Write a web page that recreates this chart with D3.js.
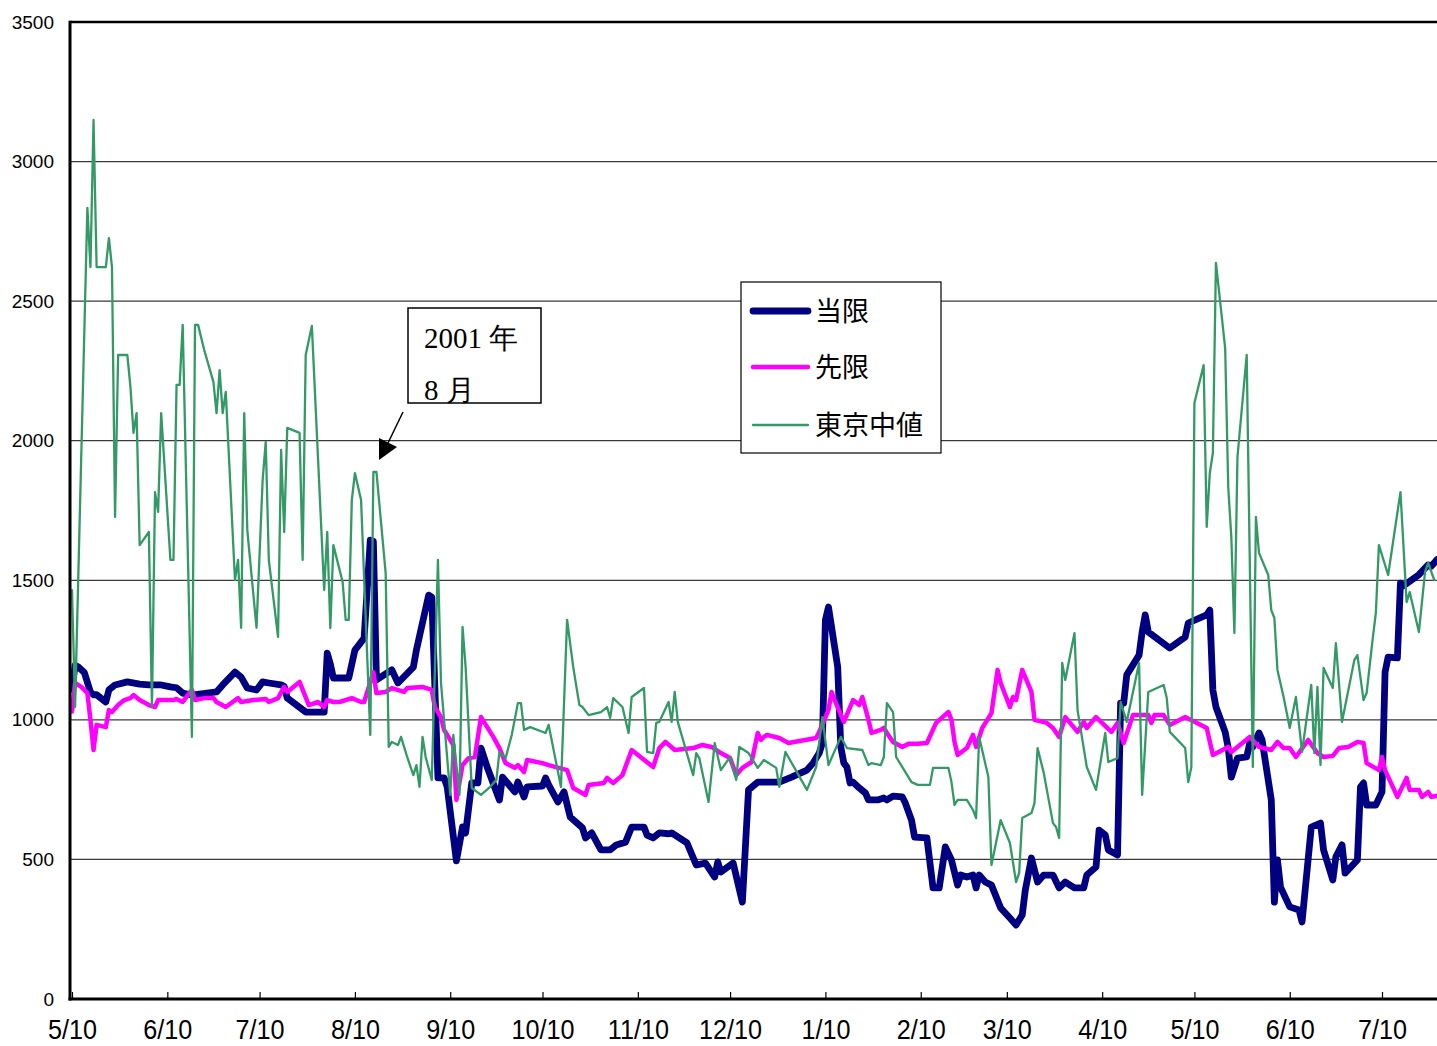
<!DOCTYPE html>
<html>
<head>
<meta charset="utf-8">
<script src="https://cdn.jsdelivr.net/npm/d3@7"></script>
<style>
  body { margin: 0; background: #fff; }
  svg { display: block; }
</style>
</head>
<body>
<svg id="chart" width="1437" height="1046"></svg>
<script>
// ---- data ----
const yTicks = [0, 500, 1000, 1500, 2000, 2500, 3000, 3500];
const xTickDates = ["2001-05-10","2001-06-10","2001-07-10","2001-08-10","2001-09-10","2001-10-10",
  "2001-11-10","2001-12-10","2002-01-10","2002-02-10","2002-03-10","2002-04-10","2002-05-10",
  "2002-06-10","2002-07-10"];
const xTickLabels = ["5/10","6/10","7/10","8/10","9/10","10/10","11/10","12/10","1/10","2/10",
  "3/10","4/10","5/10","6/10","7/10"];
const seriesNames = ["当限", "先限", "東京中値"];

// 当限
const touGen = [["2001-05-10",1110],["2001-05-11",1195],["2001-05-12",1190],["2001-05-14",1170],["2001-05-16",1100],["2001-05-17",1090],["2001-05-18",1090],["2001-05-21",1064],["2001-05-22",1107],["2001-05-24",1125],["2001-05-28",1136],["2001-06-01",1128],["2001-06-04",1125],["2001-06-08",1125],["2001-06-11",1118],["2001-06-13",1115],["2001-06-15",1096],["2001-06-18",1089],["2001-06-26",1100],["2001-06-28",1125],["2001-07-02",1171],["2001-07-04",1153],["2001-07-06",1114],["2001-07-09",1107],["2001-07-11",1136],["2001-07-13",1132],["2001-07-17",1125],["2001-07-18",1120],["2001-07-19",1078],["2001-07-22",1053],["2001-07-25",1028],["2001-07-31",1028],["2001-08-01",1239],["2001-08-02",1200],["2001-08-03",1150],["2001-08-08",1150],["2001-08-10",1250],["2001-08-13",1293],["2001-08-15",1644],["2001-08-16",1640],["2001-08-17",1143],["2001-08-18",1150],["2001-08-22",1179],["2001-08-24",1132],["2001-08-29",1189],["2001-08-30",1250],["2001-09-03",1447],["2001-09-04",1440],["2001-09-06",792],["2001-09-08",792],["2001-09-09",760],["2001-09-12",495],["2001-09-14",616],["2001-09-15",595],["2001-09-17",774],["2001-09-19",774],["2001-09-20",899],["2001-09-22",831],["2001-09-26",713],["2001-09-27",795],["2001-10-01",742],["2001-10-02",777],["2001-10-04",724],["2001-10-05",760],["2001-10-10",763],["2001-10-11",792],["2001-10-12",767],["2001-10-15",706],["2001-10-17",742],["2001-10-19",652],["2001-10-23",613],["2001-10-24",577],["2001-10-26",595],["2001-10-29",534],["2001-11-01",534],["2001-11-03",552],["2001-11-06",562],["2001-11-08",616],["2001-11-12",616],["2001-11-13",587],["2001-11-15",577],["2001-11-17",595],["2001-11-20",592],["2001-11-21",595],["2001-11-26",559],["2001-11-29",480],["2001-12-02",487],["2001-12-05",437],["2001-12-06",491],["2001-12-07",455],["2001-12-11",487],["2001-12-14",347],["2001-12-16",749],["2001-12-19",777],["2001-12-26",777],["2001-12-30",795],["2002-01-04",820],["2002-01-06",845],["2002-01-08",881],["2002-01-09",917],["2002-01-10",1358],["2002-01-11",1404],["2002-01-14",1189],["2002-01-15",903],["2002-01-16",845],["2002-01-17",831],["2002-01-18",774],["2002-01-19",777],["2002-01-21",756],["2002-01-23",738],["2002-01-24",713],["2002-01-27",713],["2002-01-29",720],["2002-01-30",713],["2002-02-01",727],["2002-02-04",724],["2002-02-05",702],["2002-02-07",641],["2002-02-08",580],["2002-02-12",577],["2002-02-14",398],["2002-02-16",398],["2002-02-18",545],["2002-02-20",498],["2002-02-22",408],["2002-02-23",444],["2002-02-25",437],["2002-02-27",444],["2002-02-28",398],["2002-03-01",444],["2002-03-03",419],["2002-03-05",408],["2002-03-08",326],["2002-03-11",290],["2002-03-13",265],["2002-03-15",301],["2002-03-16",390],["2002-03-18",505],["2002-03-20",419],["2002-03-22",444],["2002-03-25",444],["2002-03-27",398],["2002-03-29",419],["2002-04-01",398],["2002-04-04",398],["2002-04-05",444],["2002-04-08",473],["2002-04-09",605],["2002-04-11",588],["2002-04-12",534],["2002-04-15",516],["2002-04-16",1060],["2002-04-17",1060],["2002-04-18",1161],["2002-04-22",1232],["2002-04-23",1315],["2002-04-24",1376],["2002-04-25",1315],["2002-05-02",1257],["2002-05-07",1297],["2002-05-08",1347],["2002-05-14",1376],["2002-05-15",1393],["2002-05-16",1107],["2002-05-17",1046],["2002-05-20",956],["2002-05-21",899],["2002-05-22",795],["2002-05-24",863],["2002-05-27",867],["2002-05-28",917],["2002-05-29",903],["2002-05-31",953],["2002-06-01",928],["2002-06-04",713],["2002-06-05",347],["2002-06-06",498],["2002-06-07",401],["2002-06-10",330],["2002-06-13",319],["2002-06-14",276],["2002-06-17",616],["2002-06-20",630],["2002-06-21",534],["2002-06-24",426],["2002-06-25",509],["2002-06-27",552],["2002-06-28",451],["2002-07-02",498],["2002-07-03",759],["2002-07-04",774],["2002-07-05",695],["2002-07-08",695],["2002-07-10",742],["2002-07-11",1171],["2002-07-12",1225],["2002-07-15",1222],["2002-07-16",1490],["2002-07-17",1480],["2002-07-22",1520],["2002-07-25",1555],["2002-07-26",1550],["2002-07-28",1575]];

// 先限
const sakiGen = [["2001-05-10",1030],["2001-05-11",1132],["2001-05-13",1118],["2001-05-15",1096],["2001-05-16",1000],["2001-05-17",892],["2001-05-18",982],["2001-05-21",974],["2001-05-22",1035],["2001-05-23",1028],["2001-05-25",1053],["2001-05-27",1071],["2001-05-29",1078],["2001-05-30",1089],["2001-06-01",1071],["2001-06-04",1053],["2001-06-06",1046],["2001-06-07",1071],["2001-06-12",1071],["2001-06-13",1075],["2001-06-15",1064],["2001-06-18",1107],["2001-06-19",1071],["2001-06-22",1078],["2001-06-25",1078],["2001-06-26",1064],["2001-06-29",1046],["2001-07-03",1078],["2001-07-04",1064],["2001-07-08",1071],["2001-07-12",1075],["2001-07-13",1064],["2001-07-16",1078],["2001-07-18",1118],["2001-07-19",1100],["2001-07-23",1136],["2001-07-26",1053],["2001-07-29",1064],["2001-07-31",1046],["2001-08-01",1071],["2001-08-03",1064],["2001-08-05",1064],["2001-08-09",1078],["2001-08-12",1064],["2001-08-13",1064],["2001-08-16",1171],["2001-08-17",1096],["2001-08-20",1100],["2001-08-22",1114],["2001-08-26",1100],["2001-08-27",1114],["2001-09-01",1118],["2001-09-04",1107],["2001-09-05",1046],["2001-09-07",1010],["2001-09-08",964],["2001-09-11",910],["2001-09-12",713],["2001-09-14",838],["2001-09-16",863],["2001-09-18",867],["2001-09-20",1010],["2001-09-24",939],["2001-09-26",899],["2001-09-28",845],["2001-10-01",828],["2001-10-02",838],["2001-10-04",813],["2001-10-05",856],["2001-10-10",845],["2001-10-12",838],["2001-10-18",820],["2001-10-20",756],["2001-10-24",731],["2001-10-25",767],["2001-10-30",774],["2001-10-31",792],["2001-11-02",774],["2001-11-05",802],["2001-11-08",892],["2001-11-15",831],["2001-11-17",899],["2001-11-19",921],["2001-11-22",892],["2001-11-28",899],["2001-12-01",910],["2001-12-04",903],["2001-12-07",881],["2001-12-10",863],["2001-12-12",802],["2001-12-14",828],["2001-12-17",849],["2001-12-19",953],["2001-12-20",928],["2001-12-21",939],["2001-12-22",946],["2001-12-26",935],["2001-12-29",917],["2002-01-07",935],["2002-01-08",957],["2002-01-11",1035],["2002-01-12",1100],["2002-01-13",1071],["2002-01-16",993],["2002-01-19",1071],["2002-01-21",1053],["2002-01-22",1082],["2002-01-24",1000],["2002-01-25",953],["2002-01-28",964],["2002-01-29",971],["2002-01-30",953],["2002-02-01",921],["2002-02-04",903],["2002-02-06",914],["2002-02-09",914],["2002-02-12",917],["2002-02-15",989],["2002-02-19",1028],["2002-02-20",1000],["2002-02-21",921],["2002-02-22",874],["2002-02-25",899],["2002-02-27",946],["2002-02-28",903],["2002-03-02",971],["2002-03-05",1024],["2002-03-07",1179],["2002-03-08",1132],["2002-03-11",1046],["2002-03-12",1082],["2002-03-13",1071],["2002-03-15",1179],["2002-03-18",1100],["2002-03-19",1000],["2002-03-23",989],["2002-03-25",971],["2002-03-27",939],["2002-03-29",1010],["2002-04-02",957],["2002-04-04",993],["2002-04-05",971],["2002-04-08",1010],["2002-04-13",957],["2002-04-15",989],["2002-04-17",917],["2002-04-20",1017],["2002-04-25",1017],["2002-04-26",989],["2002-04-27",1017],["2002-04-30",1017],["2002-05-02",982],["2002-05-07",1010],["2002-05-14",971],["2002-05-16",874],["2002-05-21",903],["2002-05-22",885],["2002-05-28",939],["2002-05-31",903],["2002-06-04",892],["2002-06-06",921],["2002-06-08",899],["2002-06-10",899],["2002-06-12",867],["2002-06-16",928],["2002-06-19",881],["2002-06-21",867],["2002-06-24",871],["2002-06-26",899],["2002-06-29",903],["2002-07-02",921],["2002-07-04",917],["2002-07-05",845],["2002-07-09",820],["2002-07-10",867],["2002-07-11",820],["2002-07-15",724],["2002-07-18",792],["2002-07-19",749],["2002-07-22",749],["2002-07-23",724],["2002-07-25",742],["2002-07-26",724],["2002-07-28",728]];

// 東京中値
const tokyoMid = [["2001-05-10",1465],["2001-05-11",1046],["2001-05-15",2834],["2001-05-16",2622],["2001-05-17",3149],["2001-05-18",2622],["2001-05-21",2622],["2001-05-22",2726],["2001-05-23",2622],["2001-05-24",1727],["2001-05-25",2307],["2001-05-28",2307],["2001-05-29",2193],["2001-05-30",2028],["2001-05-31",2099],["2001-06-01",1626],["2001-06-04",1673],["2001-06-05",1046],["2001-06-06",1816],["2001-06-07",1745],["2001-06-08",2099],["2001-06-11",1573],["2001-06-12",1573],["2001-06-13",2200],["2001-06-14",2200],["2001-06-15",2415],["2001-06-18",939],["2001-06-19",2415],["2001-06-20",2415],["2001-06-22",2325],["2001-06-25",2210],["2001-06-26",2099],["2001-06-27",2253],["2001-06-28",2099],["2001-06-29",2175],["2001-07-02",1501],["2001-07-03",1573],["2001-07-04",1330],["2001-07-05",2099],["2001-07-06",1680],["2001-07-09",1330],["2001-07-11",1860],["2001-07-12",1996],["2001-07-13",1573],["2001-07-16",1297],["2001-07-17",1967],["2001-07-18",1673],["2001-07-19",2046],["2001-07-23",2028],["2001-07-24",1573],["2001-07-25",2307],["2001-07-27",2411],["2001-07-31",1465],["2001-08-01",1673],["2001-08-02",1329],["2001-08-03",1626],["2001-08-06",1494],["2001-08-07",1358],["2001-08-08",1358],["2001-08-09",1788],["2001-08-10",1884],["2001-08-12",1788],["2001-08-15",946],["2001-08-16",1888],["2001-08-17",1888],["2001-08-20",1526],["2001-08-21",903],["2001-08-22",921],["2001-08-24",910],["2001-08-25",939],["2001-08-27",867],["2001-08-29",802],["2001-08-30",838],["2001-08-31",760],["2001-09-01",939],["2001-09-02",867],["2001-09-04",785],["2001-09-06",1573],["2001-09-07",1132],["2001-09-10",731],["2001-09-11",946],["2001-09-13",731],["2001-09-14",1333],["2001-09-15",1189],["2001-09-17",756],["2001-09-20",731],["2001-09-23",760],["2001-09-25",785],["2001-09-26",885],["2001-09-28",863],["2001-09-30",946],["2001-10-02",1060],["2001-10-03",1060],["2001-10-04",964],["2001-10-06",974],["2001-10-11",953],["2001-10-12",982],["2001-10-16",760],["2001-10-18",1358],["2001-10-20",1189],["2001-10-22",1053],["2001-10-23",1046],["2001-10-25",1017],["2001-10-29",1028],["2001-10-31",1046],["2001-11-01",1007],["2001-11-02",1078],["2001-11-05",1046],["2001-11-07",953],["2001-11-08",1082],["2001-11-12",1114],["2001-11-13",885],["2001-11-15",881],["2001-11-16",989],["2001-11-17",993],["2001-11-20",1064],["2001-11-21",993],["2001-11-22",1100],["2001-11-23",993],["2001-11-28",802],["2001-11-29",881],["2001-11-30",863],["2001-12-03",706],["2001-12-05",917],["2001-12-07",820],["2001-12-10",867],["2001-12-12",785],["2001-12-13",903],["2001-12-16",881],["2001-12-19",828],["2001-12-21",856],["2001-12-25",828],["2001-12-26",760],["2001-12-28",885],["2002-01-04",749],["2002-01-07",831],["2002-01-09",1010],["2002-01-11",838],["2002-01-15",939],["2002-01-17",899],["2002-01-22",892],["2002-01-24",838],["2002-01-25",845],["2002-01-28",838],["2002-01-29",867],["2002-01-30",1060],["2002-02-01",1028],["2002-02-02",867],["2002-02-07",777],["2002-02-09",767],["2002-02-13",767],["2002-02-14",828],["2002-02-19",828],["2002-02-20",777],["2002-02-21",695],["2002-02-22",713],["2002-02-25",713],["2002-02-27",677],["2002-02-28",648],["2002-03-01",939],["2002-03-04",795],["2002-03-05",480],["2002-03-08",641],["2002-03-11",559],["2002-03-13",419],["2002-03-14",451],["2002-03-15",648],["2002-03-18",666],["2002-03-19",702],["2002-03-20",899],["2002-03-22",810],["2002-03-25",630],["2002-03-26",616],["2002-03-27",577],["2002-03-28",1204],["2002-03-29",1143],["2002-04-01",1311],["2002-04-02",1035],["2002-04-05",831],["2002-04-08",749],["2002-04-11",953],["2002-04-12",849],["2002-04-15",863],["2002-04-16",1064],["2002-04-18",993],["2002-04-22",1204],["2002-04-23",731],["2002-04-25",1100],["2002-04-30",1125],["2002-05-01",1078],["2002-05-02",957],["2002-05-07",899],["2002-05-08",777],["2002-05-09",831],["2002-05-10",2135],["2002-05-13",2271],["2002-05-14",1691],["2002-05-15",1884],["2002-05-16",1956],["2002-05-17",2637],["2002-05-20",2332],["2002-05-21",1834],["2002-05-22",1655],["2002-05-23",1311],["2002-05-24",1942],["2002-05-27",2307],["2002-05-29",831],["2002-05-30",1727],["2002-05-31",1598],["2002-06-03",1519],["2002-06-04",1393],["2002-06-05",1365],["2002-06-06",1179],["2002-06-08",1082],["2002-06-10",971],["2002-06-12",1082],["2002-06-14",885],["2002-06-17",1125],["2002-06-18",881],["2002-06-19",1118],["2002-06-20",838],["2002-06-21",1186],["2002-06-24",1114],["2002-06-25",1275],["2002-06-27",993],["2002-07-01",1214],["2002-07-02",1232],["2002-07-04",1071],["2002-07-05",1096],["2002-07-07",1293],["2002-07-08",1383],["2002-07-09",1626],["2002-07-12",1519],["2002-07-16",1816],["2002-07-18",1422],["2002-07-19",1458],["2002-07-22",1315],["2002-07-24",1530],["2002-07-25",1562],["2002-07-27",1501]];

// ---- layout ----
const W = 1437, H = 1046;
const plot = { left: 70, top: 22, right: 1445, bottom: 999 };
const parse = d3.timeParse("%Y-%m-%d");

const x = d3.scaleTime()
  .domain([parse("2001-05-10"), parse("2002-07-10")])
  .range([72, 1382]);
const y = d3.scaleLinear().domain([0, 3500]).range([plot.bottom, plot.top]);

const svg = d3.select("#chart");
svg.append("rect").attr("width", W).attr("height", H).attr("fill", "#fff");

svg.append("defs").append("clipPath").attr("id", "plotClip")
  .append("rect")
  .attr("x", plot.left).attr("y", plot.top - 2)
  .attr("width", plot.right - plot.left).attr("height", plot.bottom - plot.top + 2);

// horizontal gridlines
svg.append("g").selectAll("line")
  .data(yTicks.filter(v => v > 0 && v < 3500))
  .join("line")
  .attr("x1", plot.left).attr("x2", plot.right)
  .attr("y1", d => y(d)).attr("y2", d => y(d))
  .attr("stroke", "#3a3a3a").attr("stroke-width", 1.2);

// top frame line
svg.append("line")
  .attr("x1", plot.left).attr("x2", plot.right)
  .attr("y1", y(3500)).attr("y2", y(3500))
  .attr("stroke", "#000").attr("stroke-width", 2.6);

// series
const line = d3.line()
  .x(d => x(parse(d[0])))
  .y(d => y(d[1]))
  .curve(d3.curveLinear);

const seriesStyle = [
  { data: touGen,   color: "#000080", width: 6.8 },
  { data: sakiGen,  color: "#ff00ff", width: 4.5 },
  { data: tokyoMid, color: "#339966", width: 2.3 }
];

const lines = svg.append("g").attr("clip-path", "url(#plotClip)");
seriesStyle.forEach(s => {
  lines.append("path")
    .datum(s.data)
    .attr("d", line)
    .attr("fill", "none")
    .attr("stroke", s.color)
    .attr("stroke-width", s.width)
    .attr("stroke-linejoin", "round")
    .attr("stroke-linecap", "round");
});

// y axis
const yAxis = d3.axisLeft(y).tickValues(yTicks).tickFormat(d3.format("d"))
  .tickSize(0).tickPadding(16);
const gy = svg.append("g").attr("transform", `translate(${plot.left},0)`).call(yAxis);
gy.select(".domain").remove();
gy.selectAll("text")
  .attr("font-family", "'Liberation Sans', Arial, sans-serif")
  .attr("font-size", 19).attr("fill", "#000");

svg.append("line")
  .attr("x1", plot.left).attr("x2", plot.left)
  .attr("y1", plot.top - 1.3).attr("y2", plot.bottom + 1.5)
  .attr("stroke", "#000").attr("stroke-width", 3);

// x axis
const xAxis = d3.axisBottom(x)
  .tickValues(xTickDates.map(parse))
  .tickFormat((d, i) => xTickLabels[i])
  .tickSizeInner(-7).tickSizeOuter(0).tickPadding(0);
const gx = svg.append("g").attr("transform", `translate(0,${plot.bottom})`).call(xAxis);
gx.select(".domain").remove();
gx.selectAll(".tick line").attr("stroke", "#000").attr("stroke-width", 1.2);
gx.selectAll("text")
  .attr("y", 0).attr("dy", null)
  .attr("transform", "translate(0,40) scale(0.9,1)")
  .attr("font-family", "'Liberation Sans', Arial, sans-serif")
  .attr("font-size", 28).attr("fill", "#000");

svg.append("line")
  .attr("x1", plot.left - 1.5).attr("x2", plot.right)
  .attr("y1", plot.bottom).attr("y2", plot.bottom)
  .attr("stroke", "#000").attr("stroke-width", 3);

// legend
const legend = svg.append("g");
legend.append("rect")
  .attr("x", 741).attr("y", 282).attr("width", 200).attr("height", 171)
  .attr("fill", "#fff").attr("stroke", "#000").attr("stroke-width", 1.2);
const legendRows = [311, 367, 425];
seriesStyle.forEach((s, i) => {
  legend.append("line")
    .attr("x1", 753).attr("x2", 808)
    .attr("y1", legendRows[i]).attr("y2", legendRows[i])
    .attr("stroke", s.color).attr("stroke-width", s.width)
    .attr("stroke-linecap", "round");
  legend.append("text")
    .attr("x", 815).attr("y", legendRows[i])
    .attr("dy", "0.36em")
    .attr("font-family", "'Noto Sans CJK JP', sans-serif")
    .attr("font-size", 27).attr("fill", "#000")
    .text(seriesNames[i]);
});

// annotation box with arrow
const note = svg.append("g");
note.append("rect")
  .attr("x", 408).attr("y", 308).attr("width", 133).attr("height", 95)
  .attr("fill", "#fff").attr("stroke", "#000").attr("stroke-width", 1.5);
note.append("text")
  .attr("x", 424).attr("y", 348)
  .attr("font-family", "'Liberation Serif', 'DejaVu Serif', serif")
  .attr("font-size", 29).attr("fill", "#000")
  .text("2001 年");
note.append("text")
  .attr("x", 424).attr("y", 400)
  .attr("font-family", "'Liberation Serif', 'DejaVu Serif', serif")
  .attr("font-size", 29).attr("fill", "#000")
  .text("8 月");
note.append("line")
  .attr("x1", 403).attr("y1", 412).attr("x2", 388).attr("y2", 443)
  .attr("stroke", "#000").attr("stroke-width", 1.5);
note.append("path")
  .attr("d", "M379,438 L397,447 L379,460 Z")
  .attr("fill", "#000");
</script>
</body>
</html>
